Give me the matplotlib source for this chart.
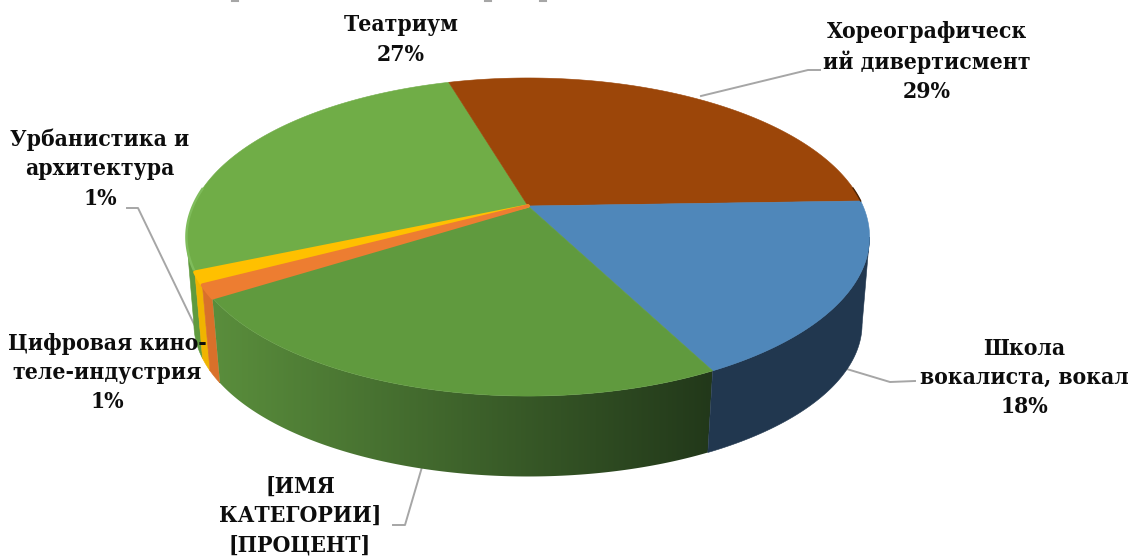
import numpy as np
import matplotlib
matplotlib.use("Agg")
import matplotlib.pyplot as plt
from matplotlib.colors import to_rgb
from matplotlib.patches import Polygon

# --------------------------------
# DATA
# --------------------------------

categories = ["Школа\nвокалиста, вокал", "[ИМЯ\nКАТЕГОРИИ]", "Цифровая кино-\nтеле-индустрия",
              "Урбанистика и\nархитектура", "Театриум", "Хореографическ\nий дивертисмент"]
values = [18, 23.5, 1.25, 1.25, 27, 29]
percent_labels = ["18%", "[ПРОЦЕНТ]", "1%", "1%", "27%", "29%"]

top_colors = ["#4F87BA", "#609A3E", "#ED7D31", "#FFC000", "#70AD47", "#9C4609"]
side_left = ["#21374F", "#5A8E3C", "#D9702A", "#F0B400", "#5F9A3E", "#6E3206"]
side_right = ["#21374F", "#22381A", "#D9702A", "#F0B400", "#5F9A3E", "#6E3206"]

label_pos = [(1024, 378), (300, 516), (107, 373), (100, 169), (401, 40), (927, 62)]

leaders = [
    ([840, 890, 915], [367, 382, 381]),
    ([422, 405, 393], [467, 525, 525]),
    ([127, 138, 208], [208, 208, 353]),
    ([701, 808, 820], [96, 70, 70]),
]

# --------------------------------
# PIE GEOMETRY
# --------------------------------

start = -1.9
apex_x = 528
apex_y = 206
a_top, b_top, k_top = 335, 153, 0.195
a_bot, b_bot, k_bot = 328, 147, 0.19
apex_y_bot = 295
# angle where the rim is widest, the wall silhouette starts there
widest = np.degrees(np.arcsin(k_top))


def rim(theta, x0, y0, a, b, k):
    t = np.radians(theta)
    w = 1 - k * np.sin(t)
    return x0 + a * np.cos(t) / w, y0 + b * np.sin(t) / w


fig = plt.figure(figsize=(11.33, 5.58), dpi=100)
ax = fig.add_axes([0, 0, 1, 1])
ax.set_xlim(0, 1133)
ax.set_ylim(558, 0)
ax.axis("off")

for xs, ys in leaders:
    ax.plot(xs, ys, color="#A6A6A6", lw=1.4, zorder=1)

# clipped title descenders at the very top
for x in [232, 485, 540]:
    ax.plot([x, x + 6], [0.5, 0.5], color="#A6A6A6", lw=1.5, zorder=1)

angles = start + np.cumsum([0] + values) * 3.6

# --------------------------------
# SIDE WALL
# --------------------------------

x_right, _ = rim(angles[1], apex_x, apex_y, a_top, b_top, k_top)
x_left, _ = rim(angles[2], apex_x, apex_y, a_top, b_top, k_top)

# back to front: left part of the big slice, small slices, then front walls
for z, i in enumerate([4, 3, 2, 1, 0]):
    t0 = angles[i]
    t1 = angles[i + 1]
    if i == 4:
        t1 = 180 - widest
    if i == 0:
        t0 = widest
    th = np.linspace(t0, t1, 200)
    x1, y1 = rim(th, apex_x, apex_y, a_top, b_top, k_top)
    x2, y2 = rim(th[::-1], apex_x, apex_y_bot, a_bot, b_bot, k_bot)
    poly = Polygon(np.c_[np.r_[x1, x2], np.r_[y1, y2]], closed=True,
                   facecolor=side_left[i], edgecolor=side_left[i], lw=0.4, zorder=2 + z * 0.01)
    ax.add_patch(poly)
    if i == 1:
        # only the big green wall has a gradient
        poly.set_facecolor("none")
        poly.set_edgecolor("none")
        f = np.linspace(0, 1, 300)[:, None]
        grad = (1 - f) * np.array(to_rgb(side_left[i])) + f * np.array(to_rgb(side_right[i]))
        im = ax.imshow(grad[None, :, :], extent=[x_left, x_right, 480, 190], aspect="auto",
                       interpolation="bilinear", zorder=2 + z * 0.01)
        im.set_clip_path(poly)

ax.set_xlim(0, 1133)
ax.set_ylim(558, 0)

# --------------------------------
# TOP FACE
# --------------------------------

draw_order = [4, 5, 0, 1, 3, 2]
for i in draw_order:
    th = np.linspace(angles[i], angles[i + 1], 120)
    x, y = rim(th, apex_x, apex_y, a_top, b_top, k_top)
    x = np.r_[apex_x, x]
    y = np.r_[apex_y, y]
    small = values[i] < 5
    ax.fill(x, y, facecolor=top_colors[i], edgecolor=top_colors[i],
            lw=2.5 if small else 0.4, joinstyle="round", zorder=3)

# lighter bevel on the left rim and dark edge on the brown slice
x, y = rim(np.linspace(angles[4] + 1, angles[4] + 30, 60), apex_x, apex_y, a_top, b_top, k_top)
ax.plot(x, y, color="#7FBC5B", lw=1.8, zorder=4)
x, y = rim(np.linspace(angles[6] - 5, angles[6], 30), apex_x, apex_y, a_top, b_top, k_top)
ax.plot(x, y, color="#4A2204", lw=1.0, zorder=4)

# --------------------------------
# LABELS
# --------------------------------

for name, pct, (lx, ly) in zip(categories, percent_labels, label_pos):
    ax.text(lx, ly, name + "\n" + pct, ha="center", va="center", fontsize=16.4,
            family="DejaVu Serif", stretch="condensed", weight="bold",
            color="#0D0D0D", linespacing=1.43, zorder=5)

fig.savefig("out.png", dpi=100)
